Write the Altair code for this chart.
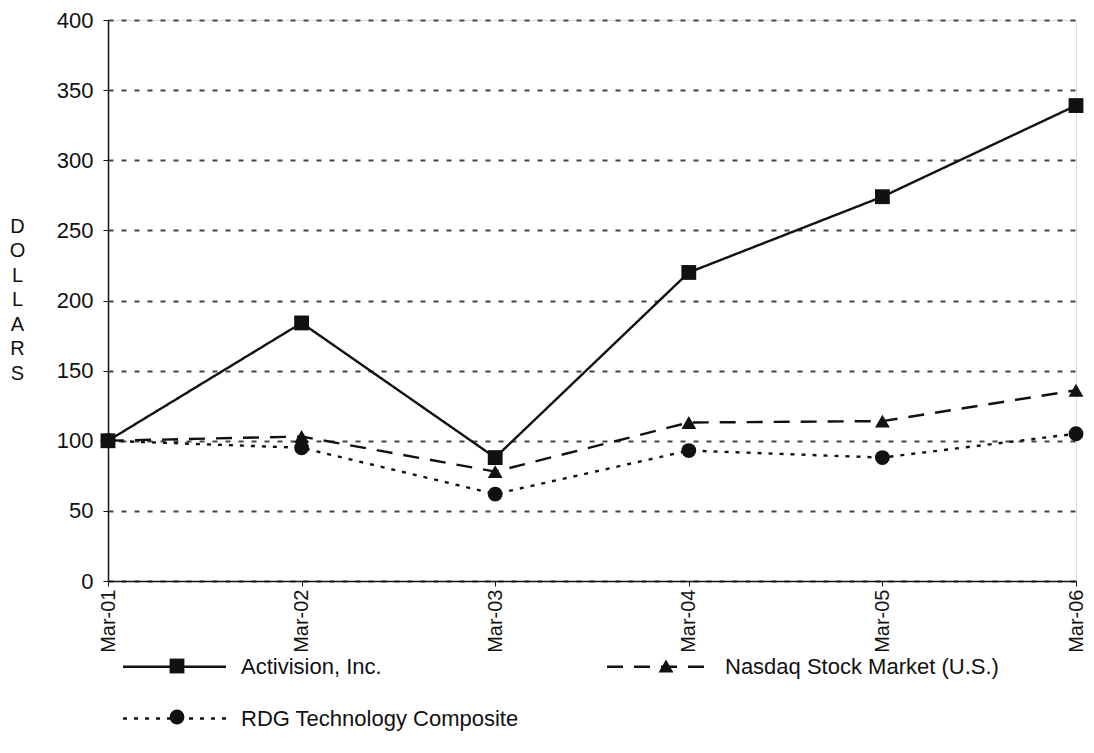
import altair as alt
import pandas as pd

dates = ["Mar-01", "Mar-02", "Mar-03", "Mar-04", "Mar-05", "Mar-06"]
series_names = ["Activision, Inc.", "Nasdaq Stock Market (U.S.)", "RDG Technology Composite"]
activision = [100, 184, 88, 220, 274, 339]
nasdaq = [100, 103, 78, 113, 114, 136]
rdg = [100, 95, 62, 93, 88, 105]
y_ticks = [0, 50, 100, 150, 200, 250, 300, 350, 400]

# marker-key names differ (trailing space) so the two legends are not merged
marker_names = [n + " " for n in series_names]

rows = []
for name, mk, vals in zip(series_names, marker_names, [activision, nasdaq, rdg]):
    for d, v in zip(dates, vals):
        rows.append({"date": d, "series": name, "series_mk": mk, "value": v})
df = pd.DataFrame(rows)

FONT = "Liberation Sans"

x = alt.X("date:N", sort=dates,
          scale=alt.Scale(type="point", padding=0),
          axis=alt.Axis(title=None, labelAngle=-90, labelAlign="right", labelBaseline="middle",
                        labelFontSize=20, labelFont=FONT, labelColor="#111", labelPadding=3,
                        tickSize=5, tickColor="#111", domainColor="#111", domainWidth=1.5,
                        grid=False))
y = alt.Y("value:Q", scale=alt.Scale(domain=[0, 400], nice=False),
          axis=alt.Axis(values=y_ticks, title=["D", "O", "L", "L", "A", "R", "S"],
                        titleAngle=0, titleFont=FONT, titleFontSize=20, titleFontWeight="normal",
                        titleLineHeight=24.5, titleAlign="center", titleBaseline="top",
                        titleX=-91, titleY=196, titleColor="#111",
                        labelFontSize=22, labelFont=FONT, labelColor="#111", labelPadding=10,
                        tickSize=5, tickColor="#111", domainColor="#111", domainWidth=1.5,
                        grid=True, gridDash=[5, 8], gridColor="#444", gridWidth=1.8))

dash_scale = alt.Scale(domain=series_names, range=[[1, 0], [16, 11], [4, 7]])
shape_scale = alt.Scale(domain=marker_names, range=["square", "triangle-up", "circle"])

lines = alt.Chart(df).mark_line(color="#111", strokeWidth=2.4).encode(
    x=x, y=y,
    strokeDash=alt.StrokeDash("series:N", scale=dash_scale,
        legend=alt.Legend(title=None, orient="none", legendX=55, legendY=635, columns=2,
                          direction="horizontal",
                          symbolType="M-5,0H5", symbolSize=424, symbolStrokeWidth=2.4,
                          symbolStrokeColor="#111", labelFont=FONT, labelFontSize=22,
                          labelColor="#111", labelOffset=55, columnPadding=83, rowPadding=29,
                          labelLimit=400)),
)

points = alt.Chart(df).mark_point(filled=True, color="#111", size=220, opacity=1).encode(
    x=x, y=y,
    shape=alt.Shape("series_mk:N", scale=shape_scale,
        legend=alt.Legend(title=None, orient="none", legendX=58, legendY=635, columns=2,
                          direction="horizontal", labelExpr="''",
                          symbolSize=220, symbolFillColor="#111", symbolStrokeColor="#111",
                          symbolStrokeWidth=0, labelFont=FONT, labelFontSize=22,
                          labelColor="transparent", labelOffset=0, columnPadding=467,
                          rowPadding=29)),
)

chart = alt.layer(lines, points).resolve_legend(shape="independent", strokeDash="independent").properties(
    width=968, height=561,
    autosize=alt.AutoSizeParams(type="none"),
    padding={"left": 100, "top": 12, "right": 10, "bottom": 160},
).configure_view(stroke="#111", strokeWidth=1.5).configure(background="white")

chart.save("out.html", embed_options={"renderer": "svg", "actions": False})
